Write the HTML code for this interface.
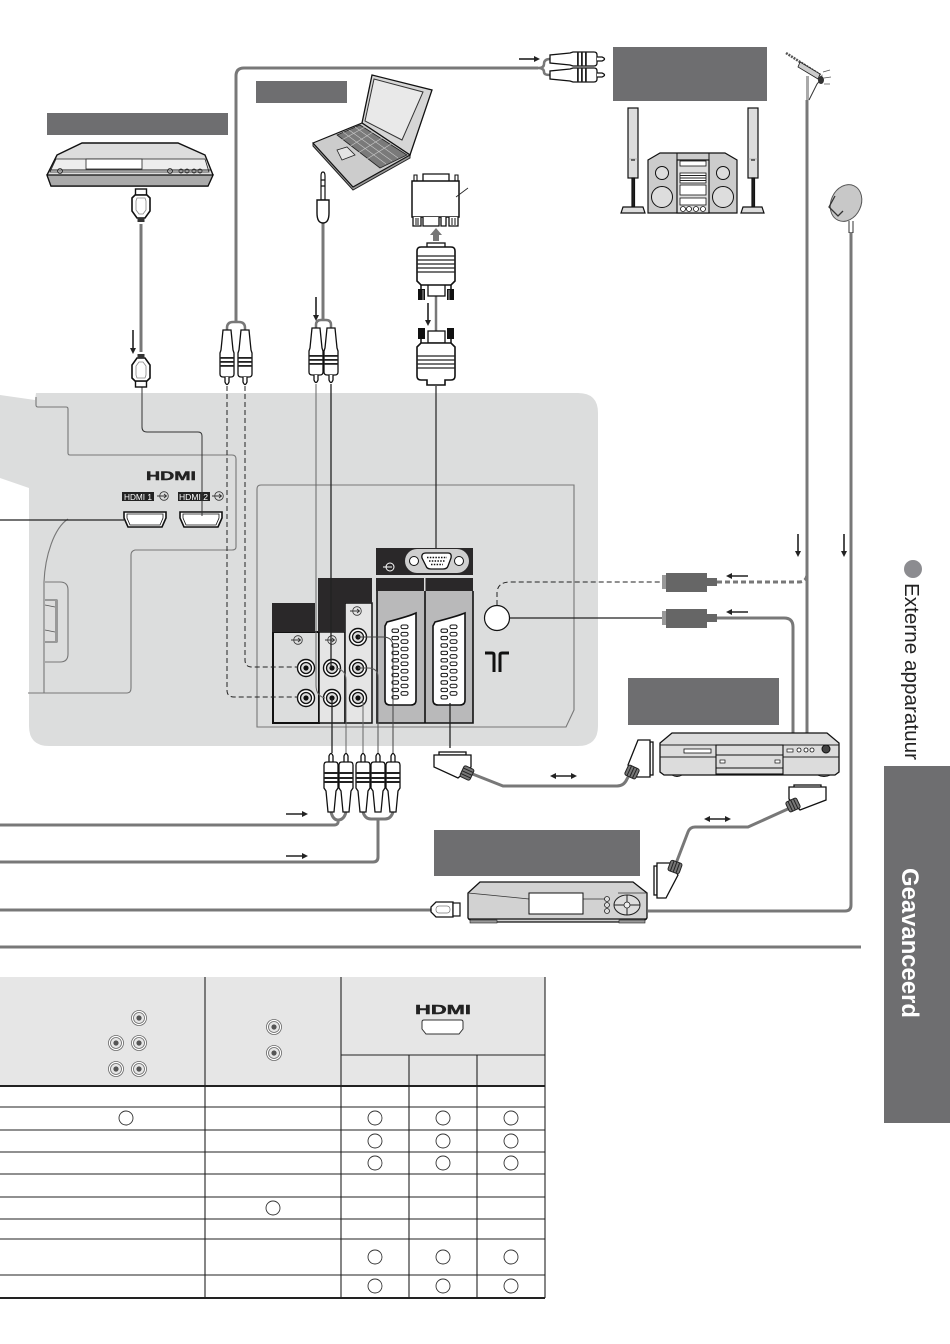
<!DOCTYPE html>
<html><head><meta charset="utf-8"><style>
html,body{margin:0;padding:0;background:#fff}
svg{display:block}
text{font-family:"Liberation Sans",sans-serif}
</style></head><body>
<svg xmlns="http://www.w3.org/2000/svg" width="950" height="1344" viewBox="0 0 950 1344">
<defs>
<g id="rca">
<path d="M-4 0H4L6 20 7 23V44Q7 47 4 47H-4Q-7 47-7 44V23L-6 20Z" fill="#fff" stroke="#111" stroke-width="1.300"/>
<rect x="-7" y="27" width="14" height="1.800" fill="#222"/><rect x="-7" y="31" width="14" height="1.800" fill="#222"/><rect x="-7" y="35" width="14" height="1.800" fill="#222"/>
<path d="M-2 47V52Q0 57 2 52V47" fill="#fff" stroke="#111" stroke-width="1.300"/>
</g>
<g id="rcad">
<path d="M-2 9V3Q0-2 2 3V9" fill="#fff" stroke="#111" stroke-width="1.300"/>
<path d="M-7 12Q-7 9-4 9H4Q7 9 7 12V35L5 38 3 59H-3L-5 38-7 35Z" fill="#fff" stroke="#111" stroke-width="1.300"/>
<rect x="-7" y="19" width="14" height="2" fill="#222"/><rect x="-7" y="24" width="14" height="2" fill="#222"/><rect x="-7" y="28" width="14" height="2" fill="#222"/>
</g>
<g id="hdmip">
<rect x="-5.500" y="-17" width="11" height="6" fill="#fff" stroke="#111" stroke-width="1.400"/>
<path d="M-6-11H6L9-8V5L4 12H-4L-9 5V-8Z" fill="#fff" stroke="#111" stroke-width="1.600"/>
<path d="M-4-8H4L5-5V4L2 8H-2L-5 4V-5Z" fill="none" stroke="#888" stroke-width=".8"/>
<rect x="-3.500" y="12" width="7" height="4" fill="#333"/>
</g>
<g id="jack">
<circle r="8.500" fill="#fff" stroke="#111" stroke-width="1.400"/><circle r="5.500" fill="#ddd" stroke="#111" stroke-width="1.300"/><circle r="2.600" fill="#111"/>
</g>
<g id="tj">
<circle r="7.500" fill="#fff" stroke="#666" stroke-width=".8"/><circle r="5.500" fill="#e6e6e6" stroke="#666" stroke-width=".8"/><circle r="2.600" fill="#555"/>
</g>
<g id="inp">
<circle r="4.300" fill="none" stroke="#333" stroke-width=".8"/><path d="M-7 0H2M0-2 2.500 0 0 2" fill="none" stroke="#333" stroke-width=".9"/>
</g>
<g id="pins" fill="#fff" stroke="#111" stroke-width="1">
<rect x="0" y="4" width="6.500" height="3.400" rx="1.500"/><rect x="0" y="11.400" width="6.500" height="3.400" rx="1.500"/><rect x="0" y="18.800" width="6.500" height="3.400" rx="1.500"/><rect x="0" y="26.200" width="6.500" height="3.400" rx="1.500"/><rect x="0" y="33.600" width="6.500" height="3.400" rx="1.500"/><rect x="0" y="41" width="6.500" height="3.400" rx="1.500"/><rect x="0" y="48.400" width="6.500" height="3.400" rx="1.500"/><rect x="0" y="55.800" width="6.500" height="3.400" rx="1.500"/><rect x="0" y="63.200" width="6.500" height="3.400" rx="1.500"/><rect x="0" y="70.600" width="6.500" height="3.400" rx="1.500"/>
<rect x="9" y="0" width="7" height="3.600" rx="1.600"/><rect x="9" y="7.400" width="7" height="3.600" rx="1.600"/><rect x="9" y="14.800" width="7" height="3.600" rx="1.600"/><rect x="9" y="22.200" width="7" height="3.600" rx="1.600"/><rect x="9" y="29.600" width="7" height="3.600" rx="1.600"/><rect x="9" y="37" width="7" height="3.600" rx="1.600"/><rect x="9" y="44.400" width="7" height="3.600" rx="1.600"/><rect x="9" y="51.800" width="7" height="3.600" rx="1.600"/><rect x="9" y="59.200" width="7" height="3.600" rx="1.600"/><rect x="9" y="66.600" width="7" height="3.600" rx="1.600"/>
</g>
<g id="ring"><rect x="-6" y="-5.500" width="12" height="11" rx="2" fill="#777" stroke="#222" stroke-width="1"/><path d="M-3-5.500V5.500M0-5.500V5.500M3-5.500V5.500" stroke="#222" stroke-width="1"/></g>
</defs>

<rect width="950" height="1344" fill="#fff"/>

<!-- TV panel -->
<path d="M0 395 35 400 36 393Q36 393 45 393H578Q598 393 598 413V726Q598 746 578 746H49Q29 746 29 726V488L0 478Z" fill="#dcdddd"/>
<g fill="none" stroke="#777" stroke-width="1.100">
<path d="M36 397V405Q36 407 38 407H66Q68 407 68 409V453Q68 455 70 455H232Q236 455 236 459V547Q236 550 232 550H135Q131 551 131 555V688Q131 693 127 693H28"/>
<path d="M68 519C54 528 45 556 44 582V693"/>
<path d="M45 582H60Q68 582 68 590V654Q68 662 60 662H45"/>
<path d="M257 727V489Q257 485 261 485H574V710L566 727Z"/>
</g>
<path d="M45 600H57V642H45" fill="#ddd" stroke="#555" stroke-width="1"/>
<path d="M45 605 55 607M45 630 55 632" stroke="#555" stroke-width=".8"/>
<rect x="55" y="600" width="3" height="42" fill="#999"/>

<!-- HDMI ports -->
<text x="146" y="480" font-size="12" font-weight="bold" textLength="50" lengthAdjust="spacingAndGlyphs" fill="#222" stroke="#222" stroke-width=".4">HDMI</text>
<rect x="122" y="492" width="32" height="9" fill="#222"/><rect x="178" y="492" width="32" height="9" fill="#222"/>
<text x="124" y="500" font-size="8.500" fill="#fff" textLength="28" lengthAdjust="spacingAndGlyphs">HDMI 1</text>
<text x="179" y="500" font-size="8.500" fill="#fff" textLength="29" lengthAdjust="spacingAndGlyphs">HDMI 2</text>
<use href="#inp" x="164" y="496"/><use href="#inp" x="219" y="496"/>
<path d="M124 512H166V518L162 527H128L124 518Z" fill="#fff" stroke="#111" stroke-width="1.600"/>
<path d="M180 512H222V518L218 527H184L180 518Z" fill="#fff" stroke="#111" stroke-width="1.600"/>
<path d="M127 514H163V518L160 525H130L127 518ZM183 514H219V518L216 525H186L183 518Z" fill="none" stroke="#111" stroke-width=".8"/>
<path d="M0 520H124" stroke="#222" stroke-width="1.200"/>
<path d="M142 386V427Q142 432 147 432H198Q202 432 202 436V516" fill="none" stroke="#333" stroke-width="1"/>

<!-- AV panels -->
<rect x="273" y="632" width="46" height="91" fill="#dcdddd" stroke="#111" stroke-width="2"/>
<rect x="272" y="603" width="43" height="29" fill="#2a2829"/>
<rect x="319" y="632" width="26" height="91" fill="#e5e5e5" stroke="#111" stroke-width="1.500"/>
<rect x="345" y="603" width="27" height="120" fill="#e5e5e5" stroke="#111" stroke-width="1.500"/>
<rect x="318" y="578" width="54" height="25" fill="#2a2829"/>
<rect x="318" y="603" width="27" height="29" fill="#2a2829"/>
<rect x="376" y="548" width="97" height="27" fill="#2a2829"/>
<rect x="376" y="578" width="97" height="13" fill="#2a2829"/>
<rect x="377" y="591" width="96" height="132" fill="#b9b9ba"/>
<path d="M377 591V723H473V591M425 591V723" fill="none" stroke="#111" stroke-width="1.600"/>
<rect x="424" y="578" width="1.500" height="13" fill="#ddd"/>
<rect x="405" y="549" width="64" height="24" rx="12" fill="#cfcfcf"/>
<path d="M426 553H448Q452 553 451 558L448 566Q447 569 443 569H431Q427 569 426 566L422 558Q421 553 426 553Z" fill="#fff" stroke="#111" stroke-width="1.300"/>
<path d="M427 557.500H447M429 561H445M431 564.500H443" stroke="#111" stroke-width="1.600" stroke-dasharray="1.500 1.300"/>
<circle cx="414" cy="561" r="4.500" fill="#fff" stroke="#111"/><circle cx="459" cy="561" r="4.500" fill="#fff" stroke="#111"/>
<g fill="none" stroke="#fff" stroke-width="1"><circle cx="390" cy="567" r="4"/><path d="M383 567H392"/></g>

<!-- SCART -->
<path d="M387 622Q410 616 416 613V700Q416 705 411 705H390Q385 705 385 700V626Z" fill="#fff" stroke="#111" stroke-width="1.600"/>
<path d="M435 622Q458 616 465 613V700Q465 705 460 705H438Q433 705 433 700V626Z" fill="#fff" stroke="#111" stroke-width="1.600"/>
<use href="#pins" x="392" y="625"/><use href="#pins" x="441" y="625"/>

<!-- jacks -->
<use href="#inp" x="298" y="640"/><use href="#inp" x="332" y="640"/><use href="#inp" x="357" y="611"/>
<use href="#jack" x="306" y="668"/><use href="#jack" x="306" y="698"/><use href="#jack" x="332" y="668"/><use href="#jack" x="332" y="698"/>
<use href="#jack" x="358" y="637"/><use href="#jack" x="358" y="668"/><use href="#jack" x="358" y="698"/>

<!-- antenna jack -->
<circle cx="497" cy="618" r="12.500" fill="#fff" stroke="#111" stroke-width="1.200"/>
<path d="M485 653H492Q494 653 494 655V672M509 653H502Q500 653 500 655V672" fill="none" stroke="#111" stroke-width="3"/>

<!-- wires -->
<g fill="none" stroke="#222" stroke-width="1">
<path d="M227 386V690Q227 697 234 697H298" stroke-dasharray="5 3"/>
<path d="M245 386V660Q245 667 252 667H298" stroke-dasharray="5 3"/>
<path d="M316 384V685Q316 696 325 698" stroke="#666"/>
<path d="M331 384V668" stroke-width="1.300"/>
<path d="M332 698V753" stroke-width="1.300"/>
<path d="M346 753V680Q346 670 336 668" stroke="#666"/>
<path d="M363 753V702" stroke="#666"/>
<path d="M378 753V677Q378 668 368 668H358" stroke="#555"/>
<path d="M393 753V647Q393 637 383 637H358" stroke="#444"/>
<path d="M450 703V748" stroke-width="1.300"/>
<path d="M436 386V548" stroke-width="1.200"/>
<path d="M497 605V592Q498 582 510 582H662" stroke-dasharray="5 3"/>
<path d="M510 618H662" stroke-width="1.200"/>
</g>

<!-- cables -->
<g fill="none" stroke="#787878" stroke-width="3">
<path d="M236 322V76Q236 68 244 68H538"/>
<path d="M227 330V328Q227 322 233 322H239Q245 322 245 328V330" stroke-width="2.500"/>
<path d="M538 68Q544 68 544 64Q544 59 550 59M538 68Q544 68 544 72Q544 75 550 75" stroke-width="2.500"/>
<path d="M141 224V352"/>
<path d="M323 223V320"/>
<path d="M316 328V325Q316 320 321 320H326Q331 320 331 325V328" stroke-width="2.500"/>
<path d="M436 296V332" stroke-width="2.500"/>
<path d="M331 812Q333 820 338 820Q344 820 346 812M338 820Q339 825 334 825H0"/>
<path d="M363 812Q365 819 371 819H385Q391 819 393 812M378 819V857Q378 862 373 862H0"/>
<path d="M0 910H431"/>
<path d="M0 947H861"/>
<path d="M807 100V733"/>
<path d="M717 582H799Q806 582 807 575" stroke-dasharray="5 3"/>
<path d="M717 618H784Q793 618 793 627V733"/>
<path d="M851 232V905Q851 911 845 911H648"/>
<path d="M470 773 503 786H617Q624 786 627 779L632 770"/>
<path d="M790 808 748 827H695Q690 827 688 832L675 866"/>
</g>

<!-- plugs -->
<use href="#rca" x="227" y="330"/><use href="#rca" x="245" y="330"/>
<use href="#rca" x="316" y="328"/><use href="#rca" x="331" y="328"/>
<use href="#rca" transform="translate(550 59) rotate(-90)"/>
<use href="#rca" transform="translate(550 75) rotate(-90)"/>
<use href="#rcad" x="331" y="753"/><use href="#rcad" x="346" y="753"/>
<use href="#rcad" x="363" y="753"/><use href="#rcad" x="378" y="753"/><use href="#rcad" x="393" y="753"/>
<use href="#hdmip" x="141" y="206"/>
<use href="#hdmip" transform="translate(141 370) scale(1 -1)"/>

<!-- mini jack -->
<path d="M323 172Q325 172 325 176V200H321V176Q321 172 323 172Z" fill="#fff" stroke="#111" stroke-width="1.200"/>
<path d="M321 180H325M321 186H325" stroke="#111" stroke-width="1.200"/>
<path d="M317 200H329V213Q329 223 323 223Q317 223 317 213Z" fill="#fff" stroke="#111" stroke-width="1.400"/>

<!-- VGA -->
<path d="M423 181V174H449V181" fill="#fff" stroke="#111" stroke-width="1.300"/>
<path d="M414 181V175H417V181M455 181V175H458V181" fill="#fff" stroke="#111" stroke-width="1.100"/>
<rect x="412" y="181" width="47" height="36" fill="#fff" stroke="#111" stroke-width="1.500"/>
<path d="M413 217V226H421V217M423 217V226H439V217M441 217V226H446V217M449 217V226H458V217" fill="#fff" stroke="#111" stroke-width="1.300"/>
<path d="M416 218V225M418 218V225M452 218V225M455 218V225" stroke="#111" stroke-width="1"/>
<path d="M456 197 468 188" stroke="#222" stroke-width=".8"/>
<path d="M436 228 442 235H439V241H433V235H430Z" fill="#777"/>
<rect x="427" y="243" width="18" height="5" fill="#fff" stroke="#111" stroke-width="1.300"/>
<rect x="428" y="284" width="17" height="12" fill="#fff" stroke="#111" stroke-width="1.300"/>
<path d="M421 285V290M451 285V290M421 338V343M451 338V343" stroke="#111" stroke-width="1.500"/>
<path d="M417 251Q417 247 421 247H451Q455 247 455 251V281L451 285H421L417 281Z" fill="#fff" stroke="#111" stroke-width="1.600"/>
<path d="M417 256H455M417 260H455M417 264H455M417 268H455M417 272H455" stroke="#222" stroke-width="1.200"/>
<rect x="418" y="289" width="7" height="11" fill="#111"/><rect x="447" y="289" width="7" height="11" fill="#111"/>
<path d="M423 290V300M449 290V300" stroke="#ccc" stroke-width=".8"/>
<rect x="428" y="331" width="17" height="12" fill="#fff" stroke="#111" stroke-width="1.300"/>
<rect x="418" y="328" width="7" height="11" fill="#111"/><rect x="447" y="328" width="7" height="11" fill="#111"/>
<path d="M421 343H451L455 347V376Q455 380 451 380H445V385H427V380H421Q417 380 417 376V347Z" fill="#fff" stroke="#111" stroke-width="1.600"/>
<path d="M417 356H455M417 360H455M417 364H455M417 368H455" stroke="#222" stroke-width="1.200"/>

<!-- small black arrows -->
<g fill="none" stroke="#222" stroke-width="1.600">
<path d="M133 330V349"/><path d="M316 297V316"/><path d="M428 303V321"/>
<path d="M798 534V552"/><path d="M844 534V552"/>
<path d="M519 59H535"/><path d="M286 814H303"/><path d="M286 856H303"/>
<path d="M748 576H731"/><path d="M748 612H731"/>
<path d="M555 776H572"/><path d="M709 819H726"/>
</g>
<g fill="#222">
<path d="M130 348H136L133 354Z"/><path d="M313 315H319L316 321Z"/><path d="M425 320H431L428 326Z"/>
<path d="M795 551H801L798 557Z"/><path d="M841 551H847L844 557Z"/>
<path d="M534 56V62L540 59Z"/><path d="M302 811V817L308 814Z"/><path d="M302 853V859L308 856Z"/>
<path d="M732 573V579L726 576Z"/><path d="M732 609V615L726 612Z"/>
<path d="M571 773V779L577 776Z"/><path d="M556 773V779L550 776Z"/>
<path d="M725 816V822L731 819Z"/><path d="M710 816V822L704 819Z"/>
</g>

<!-- F connectors -->
<rect x="662" y="575" width="5" height="14" fill="#999"/><rect x="666" y="573" width="41" height="19" fill="#666"/><rect x="706" y="578" width="11" height="8" fill="#666"/>
<rect x="662" y="611" width="5" height="14" fill="#999"/><rect x="666" y="609" width="41" height="19" fill="#666"/><rect x="706" y="614" width="11" height="8" fill="#666"/>

<!-- SCART plugs -->
<g fill="#fff" stroke="#111" stroke-width="1.300">
<rect x="439" y="752" width="27" height="3"/>
<path d="M434 755H471V767L458 778 434 767Z"/>
<rect x="650" y="742" width="3" height="33"/>
<path d="M638 740H650V777H637L628 765Z"/>
<rect x="794" y="785" width="27" height="2.500"/>
<path d="M789 787H826V800L800 810 789 799Z"/>
<rect x="654" y="866" width="3" height="29"/>
<path d="M657 863H670L678 875 666 898H657Z"/>
</g>
<use href="#ring" transform="translate(467 773) rotate(-65)"/>
<use href="#ring" transform="translate(632 772) rotate(25)"/>
<use href="#ring" transform="translate(793 805) rotate(-25)"/>
<use href="#ring" transform="translate(675 867) rotate(20)"/>

<!-- Grey labels -->
<g fill="#6e6e70">
<rect x="47" y="113" width="181" height="22"/>
<rect x="256" y="81" width="91" height="22"/>
<rect x="613" y="47" width="154" height="54"/>
<rect x="628" y="678" width="151" height="47"/>
<rect x="434" y="830" width="206" height="46"/>
</g>

<!-- HDMI recorder -->
<path d="M57 155 82 143H178L205 155 213 175 208 186H51L47 175Z" fill="#ddd" stroke="#111" stroke-width="1.400"/>
<path d="M47 175H213L208 186H51Z" fill="#aaa" stroke="#111" stroke-width="1.200"/>
<path d="M56 159H205L209 172H50Z" fill="#eee" stroke="#222" stroke-width=".8"/>
<rect x="86" y="159" width="56" height="10" fill="#fff" stroke="#222" stroke-width=".8"/>
<path d="M50 170H211" stroke="#222"/>
<g fill="none" stroke="#222" stroke-width=".8"><circle cx="60" cy="171" r="2.500"/><circle cx="170" cy="171" r="2.500"/><circle cx="181" cy="171" r="2"/><circle cx="187" cy="171" r="2"/><circle cx="194" cy="171" r="2"/><circle cx="200" cy="171" r="2"/></g>

<!-- Laptop -->
<path d="M313 143V146L353 190 410 158V155Z" fill="#999" stroke="#222" stroke-width="1"/>
<path d="M372 75 432 90 410 155 362 123Z" fill="#d6d6d6" stroke="#111" stroke-width="1.300"/>
<path d="M374 79 423 92 402 140 365 121Z" fill="#e9e9e9" stroke="#333" stroke-width="1"/>
<path d="M313 143 362 123 410 155 353 187Z" fill="#ccc" stroke="#111" stroke-width="1.200"/>
<path d="M337 135 360 125 407 155 380 168Z" fill="#7a7a7a" stroke="#222" stroke-width=".8"/>
<path d="M343 132 386 164M349 130 392 161M355 127 398 158M340 141 365 127M349 147 373 132M358 153 382 138M367 159 391 144" stroke="#c9c9c9" stroke-width=".6"/>
<path d="M337 150 347 147 355 155 342 160Z" fill="#e4e4e4" stroke="#222" stroke-width=".8"/>

<!-- Audio -->
<g stroke="#111" stroke-width="1.200">
<rect x="628" y="108" width="10" height="70" fill="#ddd"/>
<rect x="632" y="178" width="2.500" height="29" fill="#222"/>
<path d="M623 207H643L645 213H621Z" fill="#ddd"/>
<rect x="748" y="108" width="10" height="70" fill="#ddd"/>
<rect x="752" y="178" width="2.500" height="29" fill="#222"/>
<path d="M743 207H762L764 213H741Z" fill="#ddd"/>
<path d="M648 160 660 153H725L737 160V213H648Z" fill="#ccc"/>
<rect x="677" y="160" width="32" height="53" fill="#ddd"/>
<rect x="680" y="161" width="26" height="5" fill="#fff" stroke-width=".8"/>
<rect x="680" y="173" width="26" height="10" fill="#fff" stroke-width=".8"/>
<rect x="680" y="185" width="26" height="10" fill="#fff" stroke-width=".8"/>
<rect x="680" y="198" width="26" height="7" fill="#fff" stroke-width=".8"/>
</g>
<path d="M680 175.500H706M680 178H706M680 180.500H706" stroke="#222" stroke-width="1"/>
<path d="M631 160H635M751 160H755" stroke="#222" stroke-width="1.200"/>
<path d="M628 159H638M748 159H758" stroke="#888" stroke-width=".6"/>
<path d="M677 160V153M709 160V153" stroke="#111"/>
<g fill="#ddd" stroke="#111"><circle cx="662" cy="173" r="6.500"/><circle cx="723" cy="173" r="6.500"/><circle cx="662" cy="197" r="10.500"/><circle cx="723" cy="197" r="10.500"/></g>
<g fill="#fff" stroke="#111" stroke-width=".8"><circle cx="683" cy="209" r="2.500"/><circle cx="689" cy="209" r="2.500"/><circle cx="696" cy="209" r="2.500"/><circle cx="703" cy="209" r="2.500"/></g>

<!-- Antenna -->
<path d="M786 53 822 76" stroke="#555" stroke-width="2.500" stroke-dasharray="2 1"/>
<path d="M800 62 820 74 818 79 798 67Z" fill="#ccc" stroke="#222" stroke-width=".8"/>
<rect x="806" y="76" width="3" height="24" fill="#aaa"/>
<path d="M809 100 817 84 822 78" fill="none" stroke="#333" stroke-width="1"/>
<ellipse cx="821" cy="80" rx="3" ry="4" fill="#333"/>
<path d="M823 72 830 70M824 78 831 77M824 84 830 84" stroke="#555" stroke-width=".8"/>

<!-- Dish -->
<ellipse cx="846" cy="203" rx="15" ry="19" transform="rotate(25 846 203)" fill="#c8c8c8" stroke="#555" stroke-width="1"/>
<path d="M835 196 829 207 838 216 843 211" fill="none" stroke="#333" stroke-width="1.300"/>
<path d="M849 221V233M853 221V233" stroke="#333" stroke-width="1"/>

<!-- DVD recorder -->
<path d="M672 733H827L839 743V772L835 775H664L660 772V743Z" fill="#dcdcdc" stroke="#111" stroke-width="1.300"/>
<path d="M660 745H839M660 757H839" stroke="#222" stroke-width="1"/>
<rect x="716" y="745" width="67" height="29" fill="#ddd" stroke="#111" stroke-width="1.100"/>
<path d="M716 755H783M716 768H783" stroke="#111"/>
<rect x="684" y="749" width="27" height="4" fill="#fff" stroke="#111" stroke-width=".8"/><rect x="720" y="760" width="5" height="3" fill="#fff" stroke="#111" stroke-width=".7"/><rect x="775" y="760" width="5" height="3" fill="#fff" stroke="#111" stroke-width=".7"/>
<rect x="787" y="749" width="6" height="3" fill="#fff" stroke="#111" stroke-width=".7"/>
<g fill="#fff" stroke="#111" stroke-width=".8"><circle cx="799" cy="750" r="2"/><circle cx="806" cy="750" r="2"/><circle cx="812" cy="750" r="2"/></g>
<circle cx="826" cy="749" r="4" fill="#444" stroke="#111"/>
<path d="M672 775 Q677 778 682 775M818 775Q824 778 830 775" fill="#555" stroke="#111"/>

<!-- STB -->
<path d="M480 882H633L647 893V918L643 922H472L468 918V893Z" fill="#d2d2d2" stroke="#111" stroke-width="1.300"/>
<path d="M468 893Q500 896 529 899M583 899H608M618 893H647" fill="none" stroke="#333" stroke-width=".8"/>
<path d="M468 919H647" stroke="#111" stroke-width="1.200"/>
<rect x="470" y="920" width="27" height="3" fill="#999" stroke="#222" stroke-width=".6"/><rect x="619" y="920" width="26" height="3" fill="#999" stroke="#222" stroke-width=".6"/>
<rect x="529" y="893" width="54" height="21" fill="#fff" stroke="#111" stroke-width="1"/>
<g fill="#ddd" stroke="#222" stroke-width=".8"><circle cx="607" cy="899" r="2.500"/><circle cx="607" cy="905" r="2.500"/><circle cx="607" cy="911" r="2.500"/></g>
<ellipse cx="627" cy="905" rx="13" ry="10" fill="#ddd" stroke="#222" stroke-width="1"/>
<path d="M627 895V915M614 905H640" stroke="#222" stroke-width="1"/>
<circle cx="627" cy="905" r="3" fill="#eee" stroke="#222" stroke-width=".8"/>

<!-- F plug at STB -->
<path d="M436 902H453V917H436L431 912V907Z" fill="#fff" stroke="#111" stroke-width="1.300"/>
<rect x="453" y="903" width="7" height="13" fill="#fff" stroke="#111" stroke-width="1.200"/>
<rect x="436" y="906" width="14" height="7" rx="3" fill="none" stroke="#777" stroke-width=".7"/>

<!-- Table -->
<rect x="0" y="977" width="545" height="109" fill="#e6e6e6"/>
<g stroke="#222" fill="none">
<path d="M0 1086H545M0 1298H545" stroke-width="2"/>
<path d="M0 1107H545M0 1130H545M0 1152H545M0 1174H545M0 1197H545M0 1219H545M0 1239H545M0 1275H545M341 1055H545" stroke-width="1.100"/>
<path d="M205 977V1298M341 977V1298M409 1055V1298M477 1055V1298M545 977V1298" stroke-width="1.100"/>
</g>
<text x="415" y="1014" font-size="13" font-weight="bold" textLength="56" lengthAdjust="spacingAndGlyphs" fill="#222" stroke="#222" stroke-width=".4">HDMI</text>
<path d="M424 1020H461Q463 1020 463 1022V1029L459 1034H426L422 1029V1022Q422 1020 424 1020Z" fill="#fff" stroke="#333" stroke-width="1"/>
<use href="#tj" x="139" y="1018"/><use href="#tj" x="116" y="1043"/><use href="#tj" x="139" y="1043"/><use href="#tj" x="116" y="1069"/><use href="#tj" x="139" y="1069"/>
<use href="#tj" x="274" y="1027"/><use href="#tj" x="274" y="1053"/>
<g fill="#fff" stroke="#333" stroke-width=".9">
<circle cx="126" cy="1118" r="7"/><circle cx="375" cy="1118" r="7"/><circle cx="443" cy="1118" r="7"/><circle cx="511" cy="1118" r="7"/>
<circle cx="375" cy="1141" r="7"/><circle cx="443" cy="1141" r="7"/><circle cx="511" cy="1141" r="7"/>
<circle cx="375" cy="1163" r="7"/><circle cx="443" cy="1163" r="7"/><circle cx="511" cy="1163" r="7"/>
<circle cx="273" cy="1208" r="7"/>
<circle cx="375" cy="1257" r="7"/><circle cx="443" cy="1257" r="7"/><circle cx="511" cy="1257" r="7"/>
<circle cx="375" cy="1286" r="7"/><circle cx="443" cy="1286" r="7"/><circle cx="511" cy="1286" r="7"/>
</g>

<!-- Right tab -->
<circle cx="913" cy="569" r="9" fill="#8c8c90"/>
<text transform="translate(905 583) rotate(90)" font-size="20" fill="#222" textLength="177" lengthAdjust="spacingAndGlyphs">Externe apparatuur</text>
<rect x="884" y="766" width="66" height="357" fill="#6e6e70"/>
<text transform="translate(902 868) rotate(90)" font-size="24" font-weight="bold" fill="#fff" textLength="150" lengthAdjust="spacingAndGlyphs">Geavanceerd</text>
</svg>
</body></html>
